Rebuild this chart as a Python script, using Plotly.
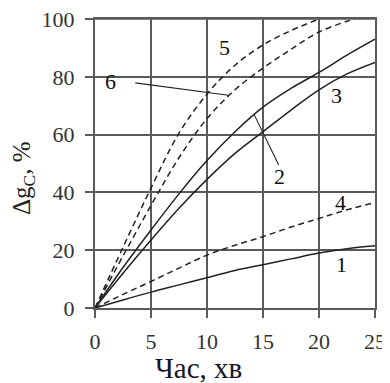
import plotly.graph_objects as go

# ---- data ----
t = [0, 2.5, 5, 7.5, 10, 12.5, 15, 17.5, 20, 22.5, 25]
curve1 = [0, 2.8, 5.5, 8.0, 10.5, 13.0, 15.0, 17.0, 19.0, 20.5, 21.5]
curve2 = [0, 14.0, 27.0, 39.5, 51.0, 61.0, 69.5, 76.0, 81.5, 87.5, 93.0]
curve3 = [0, 12.0, 23.5, 34.5, 44.5, 53.5, 61.0, 68.5, 75.5, 81.0, 85.0]
curve4 = [0, 4.7, 9.2, 13.8, 18.3, 21.7, 24.7, 28.0, 31.0, 34.0, 36.5]
t5 = [0, 2.5, 5, 7.5, 10, 12.5, 15, 17.5, 20]
curve5 = [0, 21.0, 41.5, 60.5, 74.0, 84.0, 91.0, 96.0, 100.0]
t6 = [0, 2.5, 5, 7.5, 10, 12.5, 15, 17.5, 20, 22.5, 23.2]
curve6 = [0, 18.0, 35.5, 52.0, 65.5, 75.5, 83.0, 89.5, 95.5, 99.2, 100.0]

x_ticks = [0, 5, 10, 15, 20, 25]
y_ticks = [0, 20, 40, 60, 80, 100]

labels = ["1", "2", "3", "4", "5", "6"]
label_x = [22.0, 16.5, 21.6, 21.9, 11.6, 1.35]
label_y = [15.0, 45.5, 73.5, 36.5, 90.0, 78.5]

leader6_x = [3.6, 11.9]
leader6_y = [77.9, 73.6]
leader2_x = [16.4, 14.2]
leader2_y = [49.5, 67.0]

x_title = "Час, хв"
y_title = "Δg<sub>C</sub>, %"

# ---- styling ----
FONT = "Liberation Serif, Times New Roman, serif"
GRID = "#5a5a5a"
LINE = "#222222"
W, H = 390, 383
L, R, T, B = 87, 23, 11, 83   # page has an 8px body margin

fig = go.Figure()

solid = dict(color=LINE, width=1.5, shape="spline")
dashed = dict(color=LINE, width=1.5, dash="6px,4px", shape="spline")

fig.add_trace(go.Scatter(x=t, y=curve1, mode="lines", line=solid, showlegend=False))
fig.add_trace(go.Scatter(x=t, y=curve2, mode="lines", line=solid, showlegend=False))
fig.add_trace(go.Scatter(x=t, y=curve3, mode="lines", line=solid, showlegend=False))
fig.add_trace(go.Scatter(x=t, y=curve4, mode="lines", line=dashed, showlegend=False))
fig.add_trace(go.Scatter(x=t5, y=curve5, mode="lines", line=dashed, showlegend=False))
fig.add_trace(go.Scatter(x=t6, y=curve6, mode="lines", line=dashed, showlegend=False))

fig.add_trace(go.Scatter(x=leader6_x, y=leader6_y, mode="lines",
                         line=dict(color=LINE, width=1.1), showlegend=False))
fig.add_trace(go.Scatter(x=leader2_x, y=leader2_y, mode="lines",
                         line=dict(color=LINE, width=1.1), showlegend=False))

# invisible trace carrying the tick-label axes
fig.add_trace(go.Scatter(x=t, y=curve1, xaxis="x2", yaxis="y2", mode="lines",
                         opacity=0, hoverinfo="skip", showlegend=False))

annotations = []
for txt, lx, ly in zip(labels, label_x, label_y):
    annotations.append(dict(x=lx, y=ly, xref="x", yref="y", text=txt, showarrow=False,
                            xanchor="center", yanchor="middle",
                            font=dict(family=FONT, size=22, color="#111")))

pw, ph = W - L - R, H - T - B
annotations.append(dict(x=(190 - L) / pw, y=(H - B - 360) / ph, xref="paper", yref="paper",
                        text=x_title, showarrow=False, xanchor="center", yanchor="middle",
                        font=dict(family=FONT, size=29, color="#141428")))
annotations.append(dict(x=(15 - L) / pw, y=(H - B - 170) / ph, xref="paper", yref="paper",
                        text=y_title, showarrow=False, textangle=-90,
                        xanchor="center", yanchor="middle",
                        font=dict(family=FONT, size=25, color="#222")))

axis_common = dict(
    showgrid=True, gridcolor=GRID, gridwidth=1.6,
    showline=True, linecolor=GRID, linewidth=1.6, mirror=True,
    zeroline=False, ticks="outside", ticklen=8, tickcolor=GRID, tickwidth=1.6,
    showticklabels=False,
)
label_axis = dict(
    showgrid=False, showline=False, zeroline=False, ticks="outside",
    tickcolor="rgba(0,0,0,0)", tickwidth=1, ticklabeloverflow="allow",
    tickfont=dict(family=FONT, size=22, color="#333"),
)

fig.update_layout(
    width=W, height=H,
    margin=dict(l=L, r=R, t=T, b=B, autoexpand=False),
    paper_bgcolor="white", plot_bgcolor="white",
    xaxis=dict(range=[0, 25], tickvals=x_ticks, **axis_common),
    yaxis=dict(range=[0, 100], tickvals=y_ticks, **axis_common),
    xaxis2=dict(range=[0, 25], tickvals=x_ticks, ticktext=[str(v) for v in x_ticks],
                overlaying="x", anchor="y2", side="bottom", ticklen=14, **label_axis),
    yaxis2=dict(range=[0, 100], tickvals=y_ticks, ticktext=[str(v) for v in y_ticks],
                overlaying="y", anchor="x2", side="left", ticklen=15, **label_axis),
    annotations=annotations,
    shapes=[dict(type="line", xref="paper", yref="paper", x0=0, x1=1, y0=1, y1=1,
                 line=dict(color=GRID, width=1.6), layer="above")],
)

fig.write_html("out.html")
